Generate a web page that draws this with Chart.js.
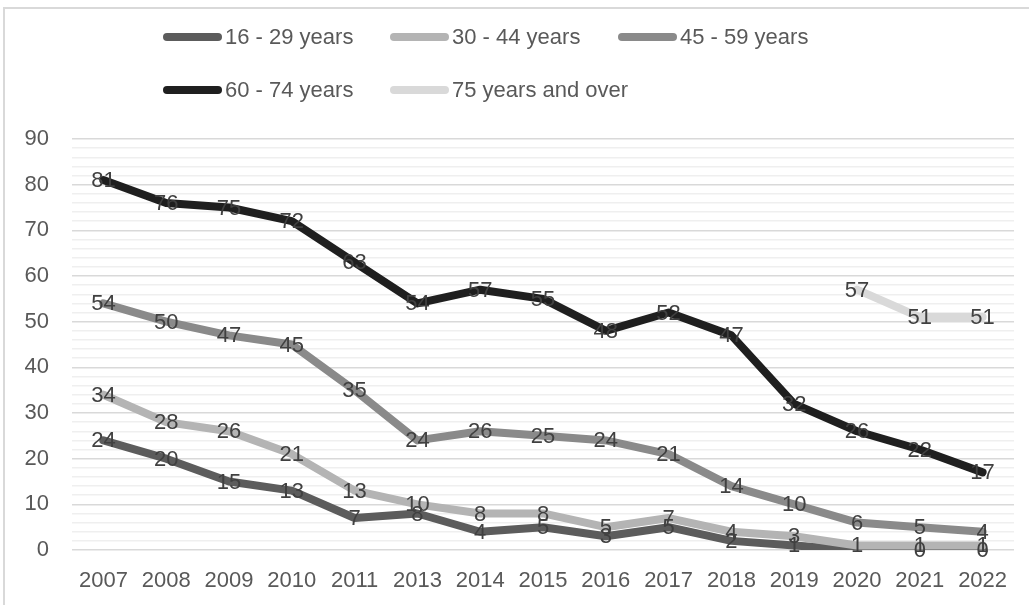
<!DOCTYPE html>
<html>
<head>
<meta charset="utf-8">
<script src="https://cdn.jsdelivr.net/npm/chart.js@4/dist/chart.umd.min.js"></script>
<style>
  html, body { margin: 0; padding: 0; background: #ffffff; }
  #wrap { position: relative; width: 1029px; height: 605px; }
</style>
</head>
<body>
<div id="wrap"><canvas id="chart" width="1029" height="605"></canvas></div>
<script>
// Survey years (2012 not surveyed)
const years = ['2007', '2008', '2009', '2010', '2011', '2013', '2014', '2015',
               '2016', '2017', '2018', '2019', '2020', '2021', '2022'];

// Share by age group, per year
const age16to29 = [24, 20, 15, 13, 7, 8, 4, 5, 3, 5, 2, 1, 0, 0, 0];
const age30to44 = [34, 28, 26, 21, 13, 10, 8, 8, 5, 7, 4, 3, 1, 1, 1];
const age45to59 = [54, 50, 47, 45, 35, 24, 26, 25, 24, 21, 14, 10, 6, 5, 4];
const age60to74 = [81, 76, 75, 72, 63, 54, 57, 55, 48, 52, 47, 32, 26, 22, 17];
const age75plus = [null, null, null, null, null, null, null, null, null, null, null, null, 57, 51, 51];

const seriesNames = ['16 - 29 years', '30 - 44 years', '45 - 59 years', '60 - 74 years', '75 years and over'];

// Labelled values on the vertical axis
const yTickLabels = [0, 10, 20, 30, 40, 50, 60, 70, 80, 90];

const FONT = 'Liberation Sans, Arial, sans-serif';
const FONT_SIZE = 22;
const TEXT = '#595959';

const palette = ['#5c5c5c', '#b4b4b4', '#8a8a8a', '#1f1f1f', '#d9d9d9'];
const seriesValues = [age16to29, age30to44, age45to59, age60to74, age75plus];

Chart.defaults.font.family = FONT;
Chart.defaults.font.size = FONT_SIZE;
Chart.defaults.color = TEXT;

// Light frame around the chart (open at right and bottom)
const framePlugin = {
  id: 'frame',
  beforeDraw(chart) {
    const ctx = chart.ctx;
    ctx.save();
    ctx.strokeStyle = '#d9d9d9';
    ctx.lineWidth = 2;
    ctx.beginPath();
    ctx.moveTo(4, chart.height);
    ctx.lineTo(4, 8);
    ctx.lineTo(chart.width, 8);
    ctx.stroke();
    ctx.restore();
  }
};

// Legend laid out on a 3-column grid
const gridLegendPlugin = {
  id: 'gridLegend',
  afterDraw(chart) {
    const ctx = chart.ctx;
    const colX = [163, 390, 618];
    const rowY = [37, 90];
    ctx.save();
    ctx.font = FONT_SIZE + 'px ' + FONT;
    ctx.textBaseline = 'middle';
    ctx.textAlign = 'left';
    chart.data.datasets.forEach((ds, i) => {
      const x = colX[i % 3];
      const y = rowY[Math.floor(i / 3)];
      ctx.strokeStyle = ds.borderColor;
      ctx.lineWidth = 8;
      ctx.lineCap = 'round';
      ctx.beginPath();
      ctx.moveTo(x + 4, y);
      ctx.lineTo(x + 55, y);
      ctx.stroke();
      ctx.fillStyle = TEXT;
      ctx.fillText(ds.label, x + 62, y + 1);
    });
    ctx.restore();
  }
};

// Value labels centred on each point
const valueLabelPlugin = {
  id: 'valueLabels',
  afterDatasetsDraw(chart) {
    const ctx = chart.ctx;
    ctx.save();
    ctx.font = FONT_SIZE + 'px ' + FONT;
    ctx.fillStyle = '#404040';
    ctx.textAlign = 'center';
    ctx.textBaseline = 'middle';
    chart.data.datasets.forEach((ds, i) => {
      const meta = chart.getDatasetMeta(i);
      const skip = ds.unlabelled || [];
      meta.data.forEach((pt, j) => {
        const v = ds.data[j];
        if (v === null || v === undefined || skip.includes(j)) return;
        ctx.fillText(String(v), pt.x, pt.y + 1);
      });
    });
    ctx.restore();
  }
};

const datasets = seriesNames.map((name, i) => ({
  label: name,
  data: seriesValues[i],
  borderColor: palette[i],
  backgroundColor: palette[i],
  borderWidth: 8,
  borderJoinStyle: 'round',
  borderCapStyle: 'round',
  pointRadius: 0,
  pointHoverRadius: 0,
  tension: 0,
  fill: false,
  spanGaps: false,
  order: 10 - i
}));
// 2020 label of the youngest group sits under the 30 - 44 label
datasets[0].unlabelled = [12];

new Chart(document.getElementById('chart'), {
  type: 'line',
  data: { labels: years, datasets },
  options: {
    responsive: false,
    animation: false,
    layout: { padding: { top: 139, right: 15, bottom: 0, left: 0 } },
    plugins: {
      legend: { display: false },
      tooltip: { enabled: false }
    },
    scales: {
      x: {
        offset: true,
        grid: { display: false, drawTicks: false },
        border: { display: false },
        ticks: { autoSkip: false, maxRotation: 0, padding: 18, color: TEXT },
        afterFit(scale) { scale.height = 55; }
      },
      y: {
        min: 0,
        max: 90,
        grid: {
          drawTicks: false,
          color: (c) => (c.tick && c.tick.value % 10 === 0) ? '#d9d9d9' : '#efefef',
          lineWidth: 1.5
        },
        border: { display: false },
        ticks: {
          stepSize: 2,
          autoSkip: false,
          padding: 23,
          color: TEXT,
          callback: (v) => yTickLabels.includes(v) ? String(v) : ''
        },
        afterFit(scale) { scale.width = 72; }
      }
    }
  },
  plugins: [framePlugin, valueLabelPlugin, gridLegendPlugin]
});
</script>
</body>
</html>
